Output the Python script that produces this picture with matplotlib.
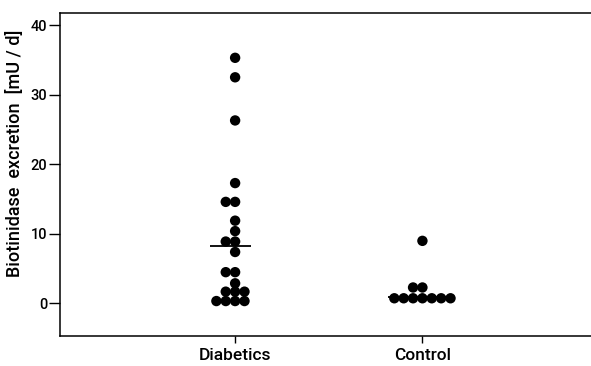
import matplotlib
matplotlib.use('Agg')
import matplotlib.pyplot as plt
import numpy as np

plt.rcParams['font.family'] = ['Roboto', 'DejaVu Sans']

categories = ['Diabetics', 'Control']
# values, grouped by row (equal values sit side by side)
diabetics = [35.3, 32.5, 26.3, 17.3, 14.6, 14.6, 11.9, 10.4, 8.9, 8.9, 7.4,
             4.5, 4.5, 2.9, 1.7, 1.7, 1.7, 0.35, 0.35, 0.35, 0.35]
control = [9.0, 2.3, 2.3, 0.75, 0.75, 0.75, 0.75, 0.75, 0.75, 0.75]
medians = [8.2, 1.0]
yticks = [0, 10, 20, 30, 40]


def swarm_offsets(vals, step):
    # points with the same value sit in one row, leaning left like the original
    vals = np.asarray(vals)
    offs = np.zeros(len(vals))
    for v in np.unique(vals):
        idx = np.where(vals == v)[0]
        n = len(idx)
        offs[idx] = (np.arange(n) - n // 2) * step
    return offs


fig = plt.figure(figsize=(5.91, 3.66), dpi=100)
ax = fig.add_axes([0.1015, 0.082, 0.8985, 0.8825])

step = 0.05
for i, vals in enumerate([diabetics, control]):
    xpos = i + 1 + swarm_offsets(vals, step)
    ax.scatter(xpos, vals, s=56, color='black', edgecolors='none', zorder=3)

ax.hlines(medians[0], 1 - 0.135, 1 + 0.085, color='black', lw=1.3, zorder=2)
ax.hlines(medians[1], 2 - 0.185, 2 + 0.17, color='black', lw=1.3, zorder=2)

ax.set_xlim(0.065, 2.9)
ax.set_ylim(-4.67, 41.74)
ax.set_xticks([1, 2])
ax.set_xticklabels(categories, fontsize=12.5, fontweight='medium')
ax.set_yticks(yticks)
ax.set_yticklabels([str(t) for t in yticks], fontsize=10.5, fontweight='medium')
ax.tick_params(axis='y', length=8, width=1, pad=1)
ax.tick_params(axis='x', length=5, width=1, pad=4)
ax.set_ylabel('Biotinidase  excretion  [mU / d]', fontsize=13,
              fontweight='medium')
ax.yaxis.set_label_coords(-0.068, 0.567)

ax.spines['right'].set_visible(False)
for s in ['left', 'top', 'bottom']:
    ax.spines[s].set_linewidth(1.1)

fig.savefig('out.png', dpi=100)
